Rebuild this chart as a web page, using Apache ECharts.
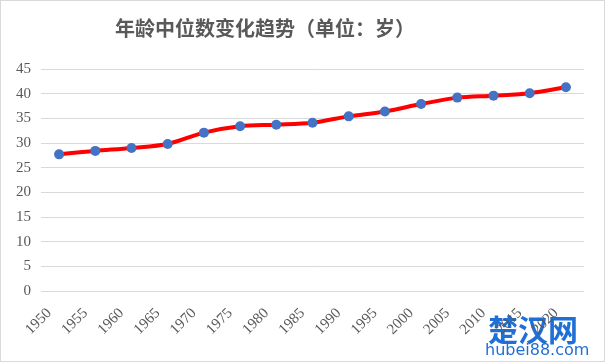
<!DOCTYPE html>
<html>
<head>
<meta charset="utf-8">
<script src="https://cdn.jsdelivr.net/npm/echarts@6/dist/echarts.min.js"></script>
<style>
  html, body { margin: 0; padding: 0; background: #fff; }
  #chart { width: 605px; height: 362px; box-sizing: border-box; border: 1px solid #d9d9d9; }
</style>
</head>
<body>
<div id="chart"></div>
<script>
// 年龄中位数（岁）
const years = ['1950', '1955', '1960', '1965', '1970', '1975', '1980', '1985',
  '1990', '1995', '2000', '2005', '2010', '2015', '2020']
const medianAge = [27.7, 28.4, 29.0, 29.8, 32.1, 33.4, 33.7, 34.1,
  35.4, 36.4, 37.9, 39.2, 39.6, 40.1, 41.3]

const chart = echarts.init(document.getElementById('chart'), null, { renderer: 'canvas' })

const labelFont = 'Liberation Serif, Times New Roman, serif'

chart.setOption({
  animation: false,
  title: {
    text: '年龄中位数变化趋势（单位：岁）',
    left: 109,
    top: 12,
    textStyle: {
      fontFamily: 'Noto Sans CJK SC',
      fontWeight: 'bold',
      fontSize: 20,
      color: '#595959'
    }
  },
  grid: {
    left: 40,
    right: 20,
    top: 68,
    bottom: 70
  },
  xAxis: {
    type: 'category',
    data: years,
    boundaryGap: true,
    axisLine: { show: false },
    axisTick: { show: false },
    axisLabel: {
      rotate: 45,
      margin: 10,
      interval: 0,
      padding: [0, 14, 0, 0],
      fontFamily: labelFont,
      fontSize: 15,
      color: '#595959'
    }
  },
  yAxis: {
    type: 'value',
    min: 0,
    max: 45,
    interval: 5,
    axisLine: { show: false },
    axisTick: { show: false },
    axisLabel: {
      margin: 10,
      fontFamily: labelFont,
      fontSize: 15,
      color: '#595959'
    },
    splitLine: { lineStyle: { color: '#d9d9d9', width: 1 } }
  },
  series: [{
    type: 'line',
    data: medianAge,
    smooth: 0.3,
    symbol: 'circle',
    symbolSize: 10,
    lineStyle: { color: '#ff0000', width: 4 },
    itemStyle: { color: '#4472c4' }
  }],
  graphic: [
    {
      type: 'text',
      left: 487,
      top: 314,
      style: {
        text: '楚汉网',
        font: 'bold 30px "Noto Sans CJK SC"',
        fill: '#1f6fd6'
      }
    },
    {
      type: 'text',
      left: 484,
      top: 342,
      style: {
        text: 'hubei88.com',
        font: '16px "DejaVu Sans"',
        fill: '#1f6fd6'
      }
    }
  ]
})
</script>
</body>
</html>
